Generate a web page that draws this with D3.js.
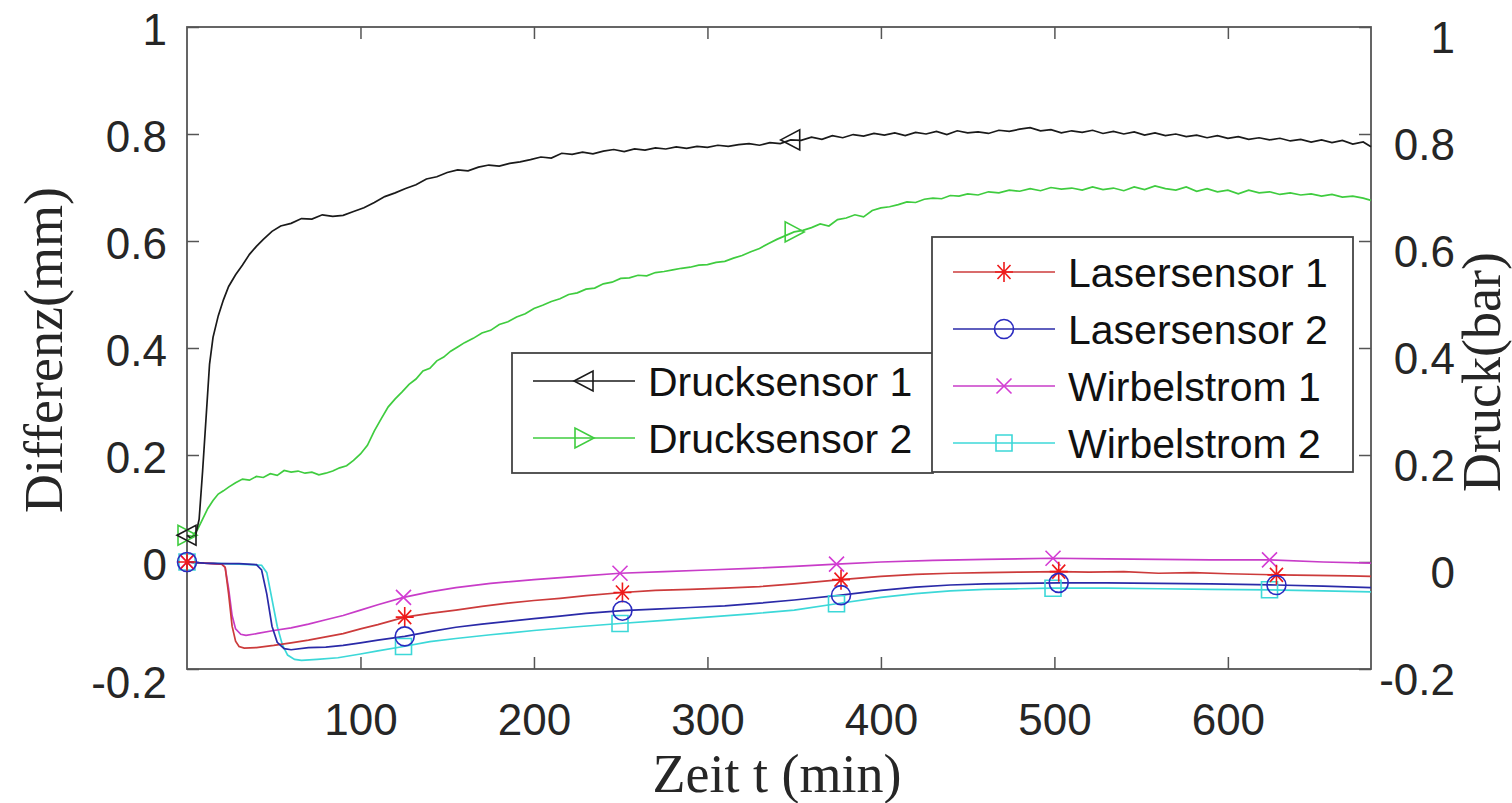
<!DOCTYPE html>
<html lang="de">
<head>
<meta charset="UTF-8">
<title>Differenz und Druck</title>
<script src="https://d3js.org/d3.v7.min.js"></script>
<style>
  body { margin: 0; background: #fff; }
  .tick text { font-family: "Liberation Sans", Arial, sans-serif; font-size: 44px; fill: #262626; }
  .legend-text { font-family: "Liberation Sans", Arial, sans-serif; font-size: 41px; fill: #111; }
  .axis-title { font-family: "Liberation Serif", "Times New Roman", serif; font-size: 54px; fill: #262626; }
</style>
</head>
<body>
<div id="chart"></div>
<script>
// ---- data ----
const xTicks = [100, 200, 300, 400, 500, 600];
const yTicks = [-0.2, 0, 0.2, 0.4, 0.6, 0.8, 1];
const yTickLabels = ["-0.2", "0", "0.2", "0.4", "0.6", "0.8", "1"];

const druck1T = [0,2,5,7,9,11,13,15,18,21,24,28,32,36,40,44,49,54,60,66,72,78,84,90,96,102,108,114,120,126,132,138,144,150,156,162,168,174,180,186,192,198,204,210,216,222,228,234,240,246,252,258,264,270,276,282,288,294,300,306,312,318,324,330,336,342,348,354,360,366,372,378,384,390,396,402,408,414,420,426,432,438,444,450,456,462,468,474,480,486,492,498,504,510,516,522,528,534,540,546,552,558,564,570,576,582,588,594,600,606,612,618,624,630,636,642,648,654,660,666,672,678,682.5];
const druck1V = [0.05,0.045,0.05,0.08,0.17,0.27,0.37,0.42,0.46,0.49,0.515,0.537,0.555,0.575,0.59,0.603,0.618,0.628,0.633,0.642,0.641,0.649,0.646,0.648,0.655,0.662,0.672,0.683,0.69,0.698,0.705,0.716,0.72,0.728,0.733,0.731,0.738,0.742,0.74,0.745,0.748,0.752,0.757,0.755,0.764,0.762,0.766,0.763,0.768,0.771,0.767,0.772,0.77,0.774,0.772,0.776,0.773,0.777,0.775,0.779,0.777,0.78,0.782,0.779,0.784,0.782,0.789,0.788,0.794,0.79,0.797,0.793,0.799,0.796,0.801,0.798,0.802,0.797,0.803,0.8,0.805,0.799,0.806,0.802,0.804,0.801,0.807,0.805,0.809,0.812,0.806,0.808,0.802,0.806,0.803,0.807,0.801,0.805,0.8,0.804,0.798,0.802,0.797,0.8,0.795,0.798,0.793,0.797,0.792,0.795,0.79,0.793,0.789,0.792,0.787,0.79,0.785,0.789,0.784,0.788,0.781,0.785,0.776];
const druck1Marks = [0, 348];

const druck2T = [0,3,6,9,12,15,18,21,24,28,32,36,40,44,48,52,56,60,64,68,72,76,80,84,88,92,96,100,104,108,112,116,120,124,128,132,136,140,144,148,152,156,160,165,170,175,180,185,190,195,200,205,210,215,220,225,230,235,240,245,250,255,260,265,270,275,280,285,290,295,300,305,310,315,320,325,330,335,340,345,350,355,360,365,370,375,380,385,390,395,400,405,410,415,420,425,430,435,440,445,450,456,462,468,474,480,486,492,498,504,510,516,522,528,534,540,546,552,558,564,570,576,582,588,594,600,606,612,618,624,630,636,642,648,654,660,666,672,678,682.5];
const druck2V = [0.05,0.048,0.06,0.08,0.1,0.115,0.127,0.133,0.14,0.148,0.155,0.153,0.16,0.158,0.165,0.162,0.171,0.168,0.17,0.166,0.168,0.163,0.166,0.17,0.176,0.18,0.19,0.202,0.218,0.245,0.268,0.29,0.305,0.318,0.332,0.342,0.357,0.362,0.376,0.383,0.394,0.402,0.41,0.418,0.428,0.433,0.444,0.449,0.458,0.464,0.474,0.48,0.487,0.492,0.5,0.503,0.51,0.512,0.52,0.523,0.53,0.531,0.536,0.535,0.541,0.543,0.546,0.549,0.551,0.555,0.556,0.56,0.562,0.568,0.573,0.58,0.586,0.595,0.603,0.61,0.617,0.62,0.625,0.632,0.628,0.64,0.643,0.649,0.645,0.657,0.662,0.664,0.668,0.673,0.672,0.678,0.68,0.679,0.685,0.684,0.688,0.686,0.692,0.69,0.695,0.693,0.698,0.694,0.7,0.697,0.699,0.695,0.701,0.696,0.699,0.694,0.701,0.696,0.703,0.698,0.695,0.701,0.693,0.698,0.692,0.695,0.688,0.695,0.69,0.692,0.687,0.69,0.686,0.688,0.684,0.687,0.682,0.684,0.68,0.676];
const druck2Marks = [0, 350];

const laser1T = [0,10,20,22,24,26,28,30,33,40,50,60,70,80,90,100,110,125.5,140,155,170,185,200,215,230,251,270,290,310,330,350,377,400,420,440,460,480,502.5,520,540,560,580,600,628,650,670,682.5];
const laser1V = [0,-0.002,-0.004,-0.01,-0.06,-0.12,-0.148,-0.158,-0.161,-0.16,-0.156,-0.151,-0.146,-0.14,-0.134,-0.125,-0.117,-0.103,-0.096,-0.09,-0.083,-0.077,-0.072,-0.068,-0.063,-0.057,-0.053,-0.051,-0.049,-0.046,-0.041,-0.033,-0.027,-0.023,-0.021,-0.02,-0.019,-0.018,-0.019,-0.018,-0.021,-0.02,-0.022,-0.024,-0.025,-0.026,-0.027];
const laser2T = [0,10,20,30,40,43,46,49,52,56,60,70,80,90,100,110,125.5,140,155,170,185,200,215,230,251,270,290,310,330,350,377,400,420,440,460,480,502.5,530,560,590,628,655,682.5];
const laser2V = [0,-0.002,-0.003,-0.003,-0.005,-0.015,-0.06,-0.12,-0.15,-0.162,-0.164,-0.16,-0.159,-0.156,-0.151,-0.146,-0.139,-0.13,-0.122,-0.116,-0.111,-0.106,-0.101,-0.096,-0.091,-0.088,-0.085,-0.082,-0.077,-0.071,-0.062,-0.053,-0.047,-0.043,-0.041,-0.04,-0.039,-0.039,-0.04,-0.041,-0.043,-0.045,-0.048];
const laserMarks = [0, 125.5, 251, 377, 502.5, 628];

const wirbel1T = [0,10,20,22,24,26,28,31,34,40,50,60,70,80,90,100,110,124.8,140,155,175,200,225,249.6,275,300,325,350,374.4,400,430,460,499.2,530,560,590,624,655,682.5];
const wirbel1V = [0,-0.002,-0.004,-0.01,-0.05,-0.1,-0.125,-0.135,-0.137,-0.134,-0.128,-0.123,-0.116,-0.108,-0.1,-0.09,-0.08,-0.066,-0.056,-0.048,-0.04,-0.033,-0.027,-0.021,-0.018,-0.015,-0.012,-0.008,-0.004,0,0.003,0.005,0.007,0.006,0.005,0.004,0.004,0,-0.002];
const wirbel2T = [0,10,20,30,43,46,49,52,55,58,62,66,75,87,100,110,124.8,140,155,175,200,225,249.6,275,300,325,350,374.4,400,420,440,460,480,499.2,530,560,590,624,655,682.5];
const wirbel2V = [0,-0.002,-0.003,-0.004,-0.006,-0.02,-0.07,-0.12,-0.155,-0.174,-0.182,-0.184,-0.182,-0.179,-0.172,-0.166,-0.158,-0.149,-0.143,-0.136,-0.128,-0.121,-0.115,-0.109,-0.103,-0.097,-0.09,-0.078,-0.066,-0.059,-0.054,-0.051,-0.05,-0.049,-0.049,-0.05,-0.051,-0.052,-0.054,-0.056];
const wirbelMarks = [0, 124.8, 249.6, 374.4, 499.2, 624];

const seriesNames = ["Drucksensor 1", "Drucksensor 2", "Lasersensor 1", "Lasersensor 2", "Wirbelstrom 1", "Wirbelstrom 2"];

// ---- layout ----
const W = 1512, H = 803;
const plot = {left: 187, right: 1371, top: 27, bottom: 669};

const svg = d3.select("#chart").append("svg")
    .attr("width", W)
    .attr("height", H);

const x = d3.scaleLinear().domain([0, 682.5]).range([plot.left, plot.right]);
const y = d3.scaleLinear().domain([-0.2, 1]).range([plot.bottom, plot.top]);

// series definitions (style + which arrays)
const series = [
    {name: seriesNames[1], t: druck2T, v: druck2V, marks: druck2Marks, line: "#3fcc3f", mark: "#3fcc3f", shape: "triR"},
    {name: seriesNames[0], t: druck1T, v: druck1V, marks: druck1Marks, line: "#1a1a1a", mark: "#1a1a1a", shape: "triL"},
    {name: seriesNames[5], t: wirbel2T, v: wirbel2V, marks: wirbelMarks, line: "#3cd8d8", mark: "#3cd8d8", shape: "square"},
    {name: seriesNames[4], t: wirbel1T, v: wirbel1V, marks: wirbelMarks, line: "#c83cc8", mark: "#d43cd4", shape: "x"},
    {name: seriesNames[2], t: laser1T, v: laser1V, marks: laserMarks, line: "#cc3b3b", mark: "#ee1a1a", shape: "star"},
    {name: seriesNames[3], t: laser2T, v: laser2V, marks: laserMarks, line: "#2a2aa8", mark: "#2a2ac0", shape: "circle"}
];

function markerPath(shape) {
    switch (shape) {
        case "star":   return "M0,-10L0,10M-9,0L9,0M-6.5,-7L6.5,7M-6.5,7L6.5,-7";
        case "circle": return "M9.5,0A9.5,9.5 0 1,1 -9.5,0A9.5,9.5 0 1,1 9.5,0Z";
        case "x":      return "M-7.5,-7.5L7.5,7.5M-7.5,7.5L7.5,-7.5";
        case "square": return "M-8,-8L8,-8L8,8L-8,8Z";
        case "triL":   return "M-10,0L9,-10L9,10Z";
        case "triR":   return "M10,0L-9,-10L-9,10Z";
    }
}

// ---- axes (ticks point inward) ----
svg.append("g")
    .attr("transform", `translate(0,${plot.bottom})`)
    .call(d3.axisBottom(x).tickValues(xTicks).tickSize(-12).tickSizeOuter(0).tickPadding(35).tickFormat(d3.format("d")))
    .call(g => g.select(".domain").remove());

svg.append("g")
    .attr("transform", `translate(0,${plot.top})`)
    .call(d3.axisTop(x).tickValues(xTicks).tickSize(-12).tickSizeOuter(0).tickFormat(""))
    .call(g => g.select(".domain").remove());

svg.append("g")
    .attr("transform", `translate(${plot.left},0)`)
    .call(d3.axisLeft(y).tickValues(yTicks).tickSize(-12).tickSizeOuter(0).tickPadding(20)
        .tickFormat((d, i) => yTickLabels[i]))
    .call(g => g.select(".domain").remove())
    .call(g => g.selectAll(".tick text").attr("dy", (d, i) => i === 0 ? "0.65em" : "0.4em"));

svg.append("g")
    .attr("transform", `translate(${plot.right},0)`)
    .call(d3.axisRight(y).tickValues(yTicks).tickSize(-12).tickSizeOuter(0)
        .tickFormat((d, i) => yTickLabels[i]))
    .call(g => g.select(".domain").remove())
    .call(g => g.selectAll(".tick text").attr("x", 84).attr("text-anchor", "end").attr("dy", "0.58em"));

svg.selectAll(".tick line").attr("stroke", "#555").attr("stroke-width", 1.5);

// frame
svg.append("rect")
    .attr("x", plot.left).attr("y", plot.top)
    .attr("width", plot.right - plot.left).attr("height", plot.bottom - plot.top)
    .attr("fill", "none").attr("stroke", "#555").attr("stroke-width", 1.8);

// ---- lines and markers ----
const line = d3.line().x(d => x(d[0])).y(d => y(d[1]));

series.forEach(s => {
    const pts = s.t.map((t, i) => [t, s.v[i]]);
    svg.append("path")
        .datum(pts)
        .attr("fill", "none")
        .attr("stroke", s.line)
        .attr("stroke-width", 1.7)
        .attr("d", line);
});

series.forEach(s => {
    const pts = s.marks.map(m => [m, s.v[s.t.indexOf(m)]]);
    svg.append("g").selectAll("path")
        .data(pts)
        .join("path")
        .attr("transform", d => `translate(${x(d[0])},${y(d[1])})`)
        .attr("d", markerPath(s.shape))
        .attr("fill", "none")
        .attr("stroke", s.mark)
        .attr("stroke-width", 1.6);
});

// ---- legends ----
function drawLegend(box, rows, entries) {
    const g = svg.append("g");
    g.append("rect")
        .attr("x", box.x).attr("y", box.y).attr("width", box.w).attr("height", box.h)
        .attr("fill", "#fff").attr("stroke", "#444").attr("stroke-width", 1.8);
    entries.forEach((s, i) => {
        const ry = rows[i];
        g.append("line")
            .attr("x1", box.x + 21).attr("x2", box.x + 123)
            .attr("y1", ry).attr("y2", ry)
            .attr("stroke", s.line).attr("stroke-width", 1.7);
        g.append("path")
            .attr("transform", `translate(${box.x + 72},${ry})`)
            .attr("d", markerPath(s.shape))
            .attr("fill", "none").attr("stroke", s.mark).attr("stroke-width", 1.6);
        g.append("text")
            .attr("class", "legend-text")
            .attr("x", box.x + 136).attr("y", ry + 15)
            .text(s.name);
    });
}

const byName = n => series.find(s => s.name === n);
drawLegend({x: 512, y: 353, w: 421, h: 120}, [381, 438],
    [byName(seriesNames[0]), byName(seriesNames[1])]);
drawLegend({x: 932, y: 237, w: 421, h: 235}, [272, 329, 386, 443],
    [byName(seriesNames[2]), byName(seriesNames[3]), byName(seriesNames[4]), byName(seriesNames[5])]);

// ---- axis titles ----
svg.append("text")
    .attr("class", "axis-title")
    .attr("transform", "translate(62,350) rotate(-90)")
    .attr("text-anchor", "middle")
    .text("Differenz(mm)");

svg.append("text")
    .attr("class", "axis-title")
    .attr("transform", "translate(1500,372) rotate(-90)")
    .attr("text-anchor", "middle")
    .text("Druck(bar)");

svg.append("text")
    .attr("class", "axis-title")
    .attr("x", 777).attr("y", 792)
    .attr("text-anchor", "middle")
    .text("Zeit t (min)");
</script>
</body>
</html>
